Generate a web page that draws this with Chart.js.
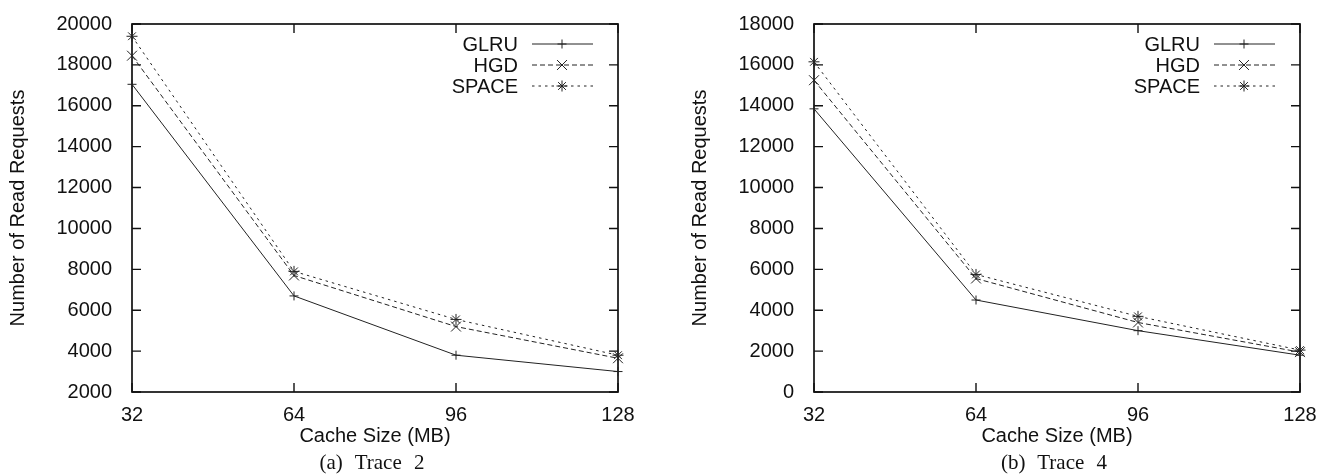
<!DOCTYPE html>
<html>
<head>
<meta charset="utf-8">
<script src="https://cdn.jsdelivr.net/npm/chart.js@4.4.1/dist/chart.umd.min.js"></script>
<style>
body { margin: 0; width: 1337px; height: 474px; background: #fff; position: relative; overflow: hidden; }
.box { position: absolute; top: 0; }
.cap { position: absolute; top: 450px; width: 300px; line-height: 24px; text-align: center;
       font-family: "Liberation Serif", serif; font-size: 21px; color: #111; word-spacing: 7px; }
</style>
</head>
<body>
<div class="box" style="left:0"><canvas id="trace2" width="668" height="474"></canvas></div>
<div class="box" style="left:682px"><canvas id="trace4" width="655" height="474"></canvas></div>
<div class="cap" style="left:222px">(a) Trace 2</div>
<div class="cap" style="left:904px">(b) Trace 4</div>
<script>
// cache sizes on the x axis (MB)
const cacheSizes = [32, 64, 96, 128];
const seriesNames = ['GLRU', 'HGD', 'SPACE'];

// Trace 2
const trace2GLRU = [17050, 6700, 3800, 3000];
const trace2HGD = [18450, 7700, 5200, 3650];
const trace2SPACE = [19400, 7900, 5550, 3800];

// Trace 4
const trace4GLRU = [13850, 4500, 3000, 1800];
const trace4HGD = [15250, 5550, 3400, 1950];
const trace4SPACE = [16150, 5750, 3700, 2050];

Chart.defaults.font.family = '"Liberation Sans", Arial, sans-serif';
Chart.defaults.font.size = 20;
Chart.defaults.color = '#111';

const ink = '#222';

// gnuplot style box with inward ticks on all four sides
const framePlugin = {
    id: 'frame',
    beforeDatasetsDraw(chart) {
        const ctx = chart.ctx;
        const a = chart.chartArea;
        const x = chart.scales.x, y = chart.scales.y;
        ctx.save();
        ctx.strokeStyle = '#111';
        ctx.lineWidth = 1.7;
        ctx.strokeRect(a.left, a.top, a.right - a.left, a.bottom - a.top);
        ctx.lineWidth = 1.4;
        ctx.beginPath();
        x.ticks.forEach(t => {
            const px = x.getPixelForValue(t.value);
            ctx.moveTo(px, a.bottom); ctx.lineTo(px, a.bottom - 9);
            ctx.moveTo(px, a.top); ctx.lineTo(px, a.top + 9);
        });
        y.ticks.forEach(t => {
            const py = y.getPixelForValue(t.value);
            ctx.moveTo(a.left, py); ctx.lineTo(a.left + 9, py);
            ctx.moveTo(a.right, py); ctx.lineTo(a.right - 9, py);
        });
        ctx.stroke();
        ctx.restore();
    },
    afterDraw(chart) {
        // key in the top right corner: label, then sample line with marker
        const ctx = chart.ctx;
        const a = chart.chartArea;
        ctx.save();
        ctx.font = '20px "Liberation Sans", Arial, sans-serif';
        ctx.textAlign = 'right';
        ctx.textBaseline = 'middle';
        chart.data.datasets.forEach((ds, i) => {
            const rowY = a.top + 20 + 21 * i;
            ctx.fillStyle = '#111';
            ctx.fillText(ds.label, a.right - 100, rowY + 1);
            ctx.strokeStyle = ink;
            ctx.lineWidth = 1;
            ctx.setLineDash(ds.borderDash || []);
            ctx.beginPath();
            ctx.moveTo(a.right - 86, rowY);
            ctx.lineTo(a.right - 25, rowY);
            ctx.stroke();
            ctx.setLineDash([]);
            Chart.helpers.drawPoint(ctx, {
                pointStyle: ds.pointStyle,
                radius: ds.pointRadius,
                rotation: 0,
                borderWidth: 1
            }, a.right - 56, rowY);
        });
        ctx.restore();
    }
};

function makeChart(id, glru, hgd, space, yMin, yMax, rightPad) {
    const series = [glru, hgd, space];
    const styles = [
        { dash: [], point: 'cross', r: 4.5 },
        { dash: [5, 3], point: 'crossRot', r: 7 },
        { dash: [2.5, 4], point: 'star', r: 5.5 }
    ];
    return new Chart(document.getElementById(id), {
        type: 'line',
        data: {
            datasets: series.map((vals, i) => ({
                label: seriesNames[i],
                data: cacheSizes.map((c, j) => ({ x: c, y: vals[j] })),
                borderColor: ink,
                borderWidth: 1,
                borderDash: styles[i].dash,
                pointStyle: styles[i].point,
                pointRadius: styles[i].r,
                pointBorderColor: ink,
                pointBorderWidth: 1,
                backgroundColor: 'transparent',
                fill: false,
                tension: 0,
                clip: false
            }))
        },
        options: {
            responsive: false,
            animation: false,
            layout: { padding: { top: 22, right: rightPad, bottom: 26, left: 0 } },
            plugins: { legend: { display: false }, tooltip: { enabled: false } },
            scales: {
                x: {
                    type: 'linear',
                    min: 32,
                    max: 128,
                    grid: { display: false },
                    border: { display: false },
                    ticks: { stepSize: 32, padding: 3, callback: v => String(v) },
                    title: { display: true, text: 'Cache Size (MB)', padding: 0 },
                    afterFit(s) { s.height = 56; }
                },
                y: {
                    min: yMin,
                    max: yMax,
                    grid: { display: false },
                    border: { display: false },
                    ticks: { stepSize: 2000, padding: 12, callback: v => String(v) },
                    title: { display: true, text: 'Number of Read Requests', padding: { top: 6, bottom: 0 } },
                    afterFit(s) { s.width = 132; }
                }
            }
        },
        plugins: [framePlugin]
    });
}

makeChart('trace2', trace2GLRU, trace2HGD, trace2SPACE, 2000, 20000, 50);
makeChart('trace4', trace4GLRU, trace4HGD, trace4SPACE, 0, 18000, 37);
</script>
</body>
</html>
